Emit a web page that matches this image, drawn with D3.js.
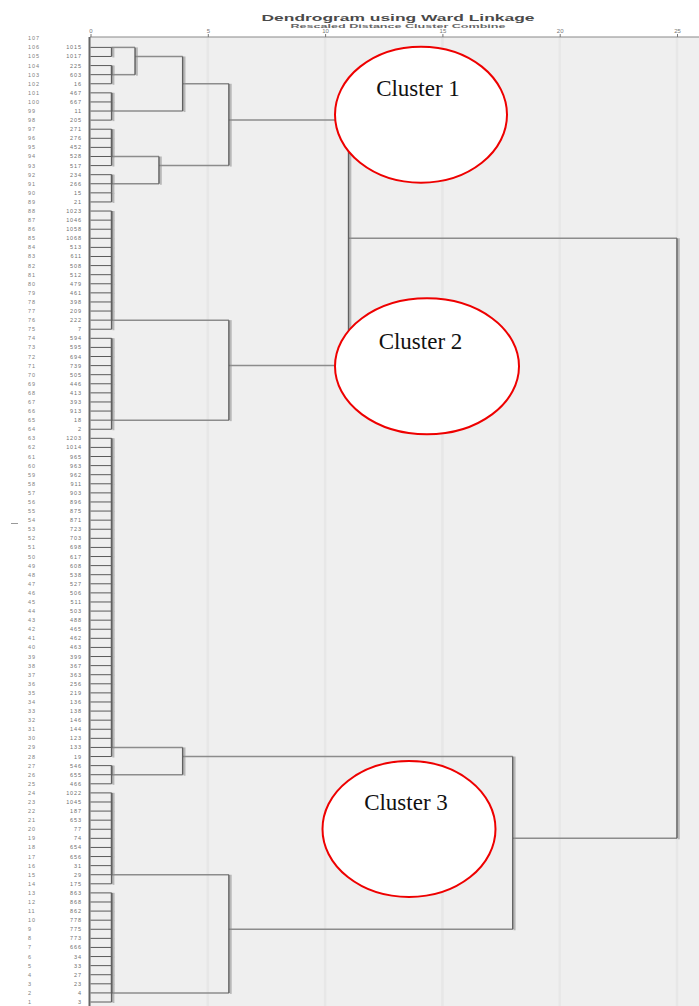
<!DOCTYPE html>
<html>
<head>
<meta charset="utf-8">
<script src="https://cdn.jsdelivr.net/npm/d3@7"></script>
<style>
  html, body { margin: 0; padding: 0; background: #ffffff; }
  svg { display: block; }
</style>
</head>
<body>
<svg id="chart" width="699" height="1006"></svg>
<script>
// ---------------- DATA ----------------
const title = "Dendrogram using Ward Linkage";
const subtitle = "Rescaled Distance Cluster Combine";
const axisTicks = [0, 5, 10, 15, 20, 25];

// row numbers printed in the first label column (top to bottom)
const rowNumbers = [107,106,105,104,103,102,101,100,99,98,97,96,95,94,93,92,91,90,89,88,
  87,86,85,84,83,82,81,80,79,78,77,76,75,74,73,72,71,70,69,68,67,66,65,64,63,62,61,60,
  59,58,57,56,55,54,53,52,51,50,49,48,47,46,45,44,43,42,41,40,39,38,37,36,35,34,33,32,
  31,30,29,28,27,26,25,24,23,22,21,20,19,18,17,16,15,14,13,12,11,10,9,8,7,6,5,4,3,2,1];

// leaf groups (case labels, top to bottom); each group joins at groupJoin
const groupNames = ["A","B","C","D","E1","E2","F","G","H","I","J","K"];
const groupLeaves = [
  ["1015","1017"],
  ["225","603","16"],
  ["467","667","11","205"],
  ["271","276","452","528","517"],
  ["234","266"],
  ["15","21"],
  ["1023","1046","1058","1068","513","611","508","512","479","461","398","209","222","7"],
  ["594","595","694","739","505","446","413","393","913","18","2"],
  ["1203","1014","965","963","962","911","903","896","875","871","723","703","698","617",
   "608","538","527","506","511","503","488","465","462","463","399","367","363","256",
   "219","136","138","146","144","123","133","19"],
  ["546","655","466"],
  ["1022","1045","187","653","77","74","654","656","31","29","175"],
  ["863","868","862","778","775","773","666","34","33","27","23","4","3"]
];
const groupJoin = [0.9,0.9,0.9,0.9,0.9,0.9,0.9,0.9,0.9,0.9,0.9,0.9];

// higher-level merges (rescaled distance)
const mergeNames  = ["E","AB","ABC","DE","C1","C2","C12","C3a","C3b","C3","root"];
const mergeLeft   = ["E1","A","AB","D","ABC","F","C1","H","J","C3a","C12"];
const mergeRight  = ["E2","B","C","E","DE","G","C2","I","K","C3b","C3"];
const mergeHeight = [0.9, 1.9, 3.93, 2.92, 5.9, 5.9, 11.0, 3.93, 5.9, 18.0, 25];

// annotation ellipses
const clusterNames = ["Cluster 1","Cluster 2","Cluster 3"];

// ---------------- BUILD TREE ----------------
const nodes = {};
let row = 1;
groupNames.forEach((g, gi) => {
  let node = null;
  groupLeaves[gi].forEach(lbl => {
    const leaf = { name: lbl, h: 0, row: row++ };
    if (node === null) node = leaf;
    else node = { name: g + "_" + lbl, h: groupJoin[gi], children: [node, leaf] };
  });
  nodes[g] = node;
});
mergeNames.forEach((m, i) => {
  nodes[m] = { name: m, h: mergeHeight[i], children: [nodes[mergeLeft[i]], nodes[mergeRight[i]]] };
});
const root = d3.hierarchy(nodes["root"]);
// row position of each node (SPSS style: floor of children midpoint)
root.eachAfter(d => {
  if (!d.children) d.pos = d.data.row;
  else d.pos = Math.floor((d.children[0].pos + d.children[1].pos) / 2);
});

// ---------------- SCALES ----------------
const svg = d3.select("#chart");
const W = 699, H = 1006;
const x = d3.scaleLinear().domain([0, 25]).range([90.5, 677]);
const y = d3.scaleLinear().domain([0, 106]).range([38.3, 1002]);
const axisY = 37;

// plot background
svg.append("rect").attr("x", 90).attr("y", axisY).attr("width", W - 90).attr("height", H - axisY)
  .attr("fill", "#efefef");

// faint grid lines
svg.append("g").selectAll("line").data(axisTicks.slice(1)).join("line")
  .attr("x1", d => x(d)).attr("x2", d => x(d))
  .attr("y1", axisY).attr("y2", H)
  .attr("stroke", "#e7e7e7").attr("stroke-width", 2.5);

// titles
svg.append("text").attr("x", 398).attr("y", 21).attr("text-anchor", "middle")
  .attr("font-family", "Liberation Sans, Arial, sans-serif").attr("font-weight", "bold")
  .attr("font-size", 9.3).attr("fill", "#4a4a4a")
  .attr("textLength", 273).attr("lengthAdjust", "spacingAndGlyphs").text(title);
svg.append("text").attr("x", 398).attr("y", 27.8).attr("text-anchor", "middle")
  .attr("font-family", "Liberation Sans, Arial, sans-serif").attr("font-weight", "bold")
  .attr("font-size", 5.6).attr("fill", "#666")
  .attr("textLength", 215).attr("lengthAdjust", "spacingAndGlyphs").text(subtitle);

// axis
const axis = d3.axisTop(x).tickValues(axisTicks).tickSize(3).tickPadding(1.5);
const ag = svg.append("g").attr("transform", `translate(0,${axisY})`).call(axis);
ag.select(".domain").attr("stroke", "#8a8a8a").attr("stroke-width", 1.2)
  .attr("d", `M90,0H${W}`);
ag.selectAll(".tick line").attr("stroke", "#777");
ag.selectAll(".tick text").attr("font-family", "Liberation Sans, Arial, sans-serif")
  .attr("font-size", 6).attr("fill", "#777");

// left frame line
svg.append("line").attr("x1", 89.5).attr("x2", 89.5).attr("y1", axisY).attr("y2", H)
  .attr("stroke", "#666").attr("stroke-width", 2);

// row number labels
svg.append("g").selectAll("text").data(rowNumbers).join("text")
  .attr("x", 28).attr("y", (d, i) => y(i) + 2)
  .attr("font-family", "Liberation Sans, Arial, sans-serif").attr("font-size", 5.5)
  .attr("letter-spacing", 0.9).attr("fill", "#808080").text(d => d);

// case labels
const leaves = root.leaves();
svg.append("g").selectAll("text").data(leaves).join("text")
  .attr("x", 82).attr("y", d => y(d.pos) + 2).attr("text-anchor", "end")
  .attr("font-family", "Liberation Sans, Arial, sans-serif").attr("font-size", 5.5)
  .attr("letter-spacing", 0.9).attr("fill", "#707070").text(d => d.data.name);

// small dash at left
svg.append("line").attr("x1", 11).attr("x2", 18).attr("y1", 523.5).attr("y2", 523.5)
  .attr("stroke", "#999").attr("stroke-width", 1);

// ---------------- TREE LINES ----------------
const internal = root.descendants().filter(d => d.children);
const hSegs = [], vSegs = [];
internal.forEach(n => {
  const xn = x(n.data.h);
  const ys = n.children.map(c => y(c.pos));
  vSegs.push({ x: xn, y1: Math.min(...ys), y2: Math.max(...ys) });
  n.children.forEach(c => {
    const xc = x(c.data.h);
    if (xn - xc > 0.5) hSegs.push({ x1: xc, x2: xn, y: y(c.pos), leaf: !c.children });
  });
});
const tg = svg.append("g");
// shadows of vertical lines
tg.selectAll("line.vs").data(vSegs).join("line").attr("class", "vs")
  .attr("x1", d => d.x + 1.8).attr("x2", d => d.x + 1.8)
  .attr("y1", d => d.y1).attr("y2", d => d.y2 + 1)
  .attr("stroke", "#b8b8b8").attr("stroke-width", 2);
tg.selectAll("line.h").data(hSegs).join("line").attr("class", "h")
  .attr("x1", d => d.x1).attr("x2", d => d.x2)
  .attr("y1", d => d.y).attr("y2", d => d.y)
  .attr("stroke", d => d.leaf ? "#5a5a5a" : "#8c8c8c")
  .attr("stroke-width", d => d.leaf ? 1 : 1.5);
tg.selectAll("line.v").data(vSegs).join("line").attr("class", "v")
  .attr("x1", d => d.x).attr("x2", d => d.x)
  .attr("y1", d => d.y1).attr("y2", d => d.y2)
  .attr("stroke", "#606060").attr("stroke-width", 1.5);

// ---------------- ANNOTATIONS ----------------
const ellCx = [421, 427, 409], ellCy = [114.7, 366.3, 829], ellRx = [86, 92, 86.5], ellRy = [68, 68, 68];
const lblX = [418, 420.5, 406], lblY = [96, 349, 810];
const eg = svg.append("g");
eg.selectAll("ellipse").data(clusterNames).join("ellipse")
  .attr("cx", (d, i) => ellCx[i]).attr("cy", (d, i) => ellCy[i])
  .attr("rx", (d, i) => ellRx[i]).attr("ry", (d, i) => ellRy[i])
  .attr("fill", "#ffffff").attr("stroke", "#ee0000").attr("stroke-width", 2);
eg.selectAll("text").data(clusterNames).join("text")
  .attr("x", (d, i) => lblX[i]).attr("y", (d, i) => lblY[i]).attr("text-anchor", "middle")
  .attr("font-family", "Liberation Serif, Times New Roman, serif").attr("font-size", 23)
  .attr("fill", "#111").text(d => d);
</script>
</body>
</html>
